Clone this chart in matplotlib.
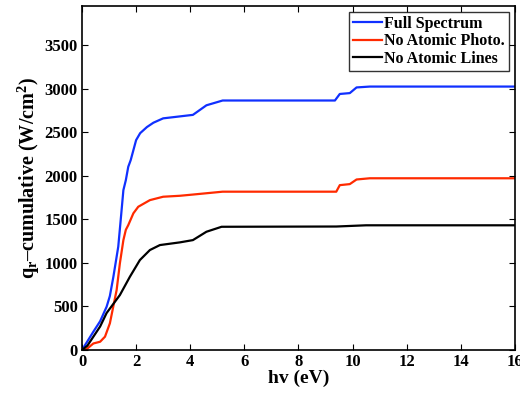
import numpy as np
import matplotlib.pyplot as plt

# Datos (hv en eV, q_r acumulado en W/cm^2)
hv_full = [0, 0.2, 0.42, 0.67, 0.91, 1.03, 1.16, 1.28, 1.34, 1.45, 1.53, 1.62, 1.71,
           1.8, 1.9, 2.0, 2.15, 2.4, 2.64, 3.0, 4.1, 4.6, 5.2, 9.35, 9.53, 9.9,
           10.15, 10.64, 16]
q_full = [0, 100, 210, 330, 497, 620, 841, 1071, 1186, 1560, 1836, 1950, 2104,
          2180, 2295, 2410, 2490, 2560, 2610, 2660, 2700, 2810, 2865, 2865, 2940,
          2950, 3015, 3025, 3025]

hv_photo = [0, 0.17, 0.42, 0.67, 0.85, 1.03, 1.28, 1.4, 1.53, 1.62, 1.71, 1.9,
            2.08, 2.51, 3.0, 3.62, 4.1, 5.2, 9.4, 9.53, 9.9, 10.15, 10.64, 16]
q_photo = [0, 10, 75, 95, 153, 306, 688, 995, 1262, 1380, 1434, 1570, 1645, 1721,
           1760, 1771, 1785, 1818, 1818, 1893, 1905, 1958, 1972, 1972]

hv_lines = [0, 0.2, 0.42, 0.67, 0.91, 1.4, 1.77, 2.14, 2.51, 2.88, 3.62, 4.1, 4.6,
            5.16, 9.4, 10.5, 16]
q_lines = [0, 50, 153, 270, 425, 631, 841, 1033, 1148, 1205, 1236, 1262, 1358,
           1415, 1418, 1432, 1432]

plt.rcParams['font.family'] = 'Liberation Serif'
plt.rcParams['font.weight'] = 'bold'
plt.rcParams['mathtext.fontset'] = 'custom'
plt.rcParams['mathtext.rm'] = 'Liberation Serif:bold'
plt.rcParams['mathtext.it'] = 'Liberation Serif:bold'
plt.rcParams['mathtext.bf'] = 'Liberation Serif:bold'

fig = plt.figure(figsize=(5.2, 3.93), dpi=100)
ax = fig.add_axes([0.1577, 0.1094, 0.8323, 0.8753])

ax.plot(hv_full, q_full, color='#1030ff', lw=1.6, label='Full Spectrum')
ax.plot(hv_photo, q_photo, color='#ff2a00', lw=1.6, label='No Atomic Photo.')
ax.plot(hv_lines, q_lines, color='black', lw=1.6, label='No Atomic Lines')

ax.set_xlim(0, 16)
ax.set_ylim(0, 3950)
ax.set_xticks(np.arange(0, 17, 2))
ax.set_yticks(np.arange(0, 3501, 500))
ax.tick_params(direction='in', top=True, right=True, labelsize=12, length=4,
               width=0.8, pad=3)
for s in ax.spines.values():
    s.set_linewidth(1.2)

ax.set_xlabel('hv (eV)', fontsize=14, fontweight='bold', labelpad=0)
ax.set_ylabel(r'q$_\mathrm{r}$–cumulative (W/cm$^\mathrm{2}$)', fontsize=14.5,
              fontweight='bold', labelpad=2)

leg = ax.legend(loc='upper right', fontsize=11.5, frameon=True, fancybox=False,
                edgecolor='black', borderpad=0.25, labelspacing=0.1,
                handlelength=1.8, handletextpad=0.15, borderaxespad=0.35)
leg.get_frame().set_linewidth(1.0)

fig.savefig('out.png', dpi=100)
